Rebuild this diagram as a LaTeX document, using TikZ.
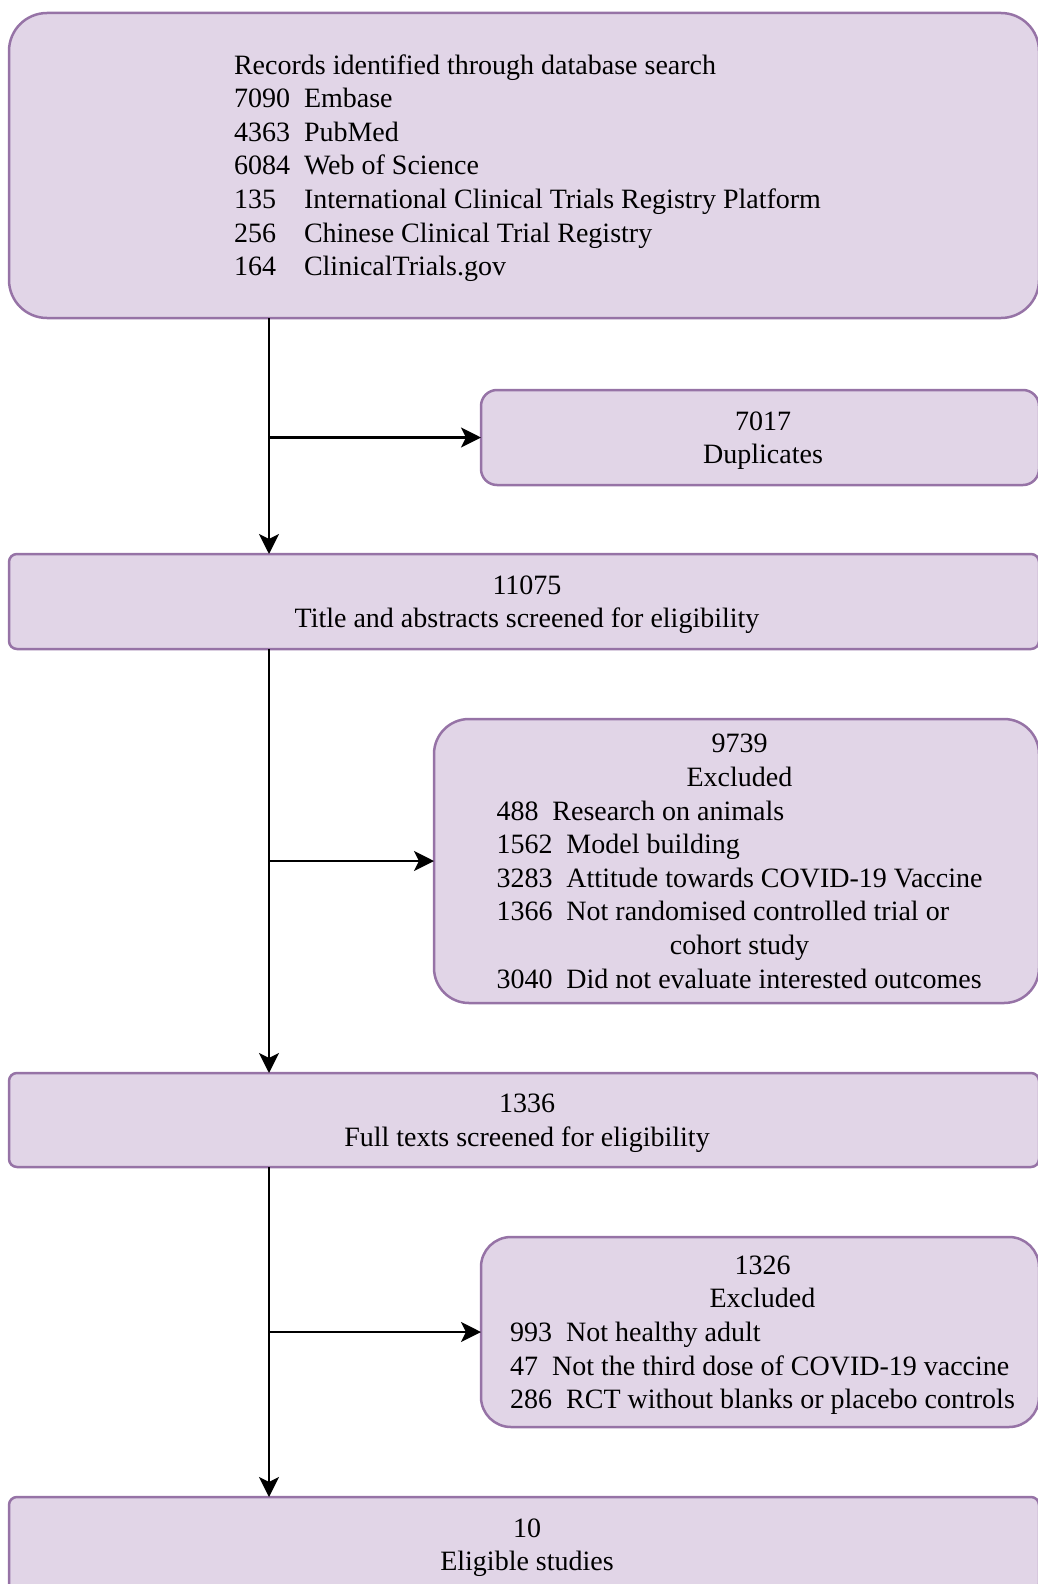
\documentclass[tikz,border=0pt]{standalone}
\usepackage{fontspec}
\setmainfont{Liberation Serif}
\usetikzlibrary{arrows.meta}
\definecolor{boxfill}{HTML}{E1D5E7}
\definecolor{boxline}{HTML}{9673A6}
\newcommand\boxfont{\fontsize{28}{33.6}\selectfont
  \setbox\strutbox\hbox{\vrule height26.25pt depth7.35pt width0pt}}
\newcommand\cc[1]{\multicolumn{1}{@{}c@{}}{#1}}
\begin{document}
\begin{tikzpicture}[x=1pt,y=-1pt,
  box/.style={draw=boxline, fill=boxfill, line width=2.5pt, inner sep=0pt, outer sep=0pt,
              font=\boxfont, align=center},
  arr/.style={line width=2.8pt, -{Stealth[length=20pt,width=20pt,inset=5pt]}}]
\useasboundingbox (0,0) rectangle (1038,1584);
\coordinate (spine) at (269,0);

\node[box, rounded corners=38pt, minimum width=1030pt, minimum height=305pt] (A) at (524,165.5)
{\hspace*{7pt}\begin{tabular}{@{}l@{\hspace{14pt}}l@{}}
\multicolumn{2}{@{}l@{}}{Records identified through database search}\\
7090 & Embase\\
4363 & PubMed\\
6084 & Web of Science\\
135 & International Clinical Trials Registry Platform\\
256 & Chinese Clinical Trial Registry\\
164 & ClinicalTrials.gov
\end{tabular}};

\node[box, rounded corners=16pt, minimum width=558pt, minimum height=95pt] (B) at (760,437.5)
{\hspace*{6pt}\begin{tabular}{@{}c@{}}7017\\Duplicates\end{tabular}};

\node[box, rounded corners=8pt, minimum width=1030pt, minimum height=95pt] (C) at (524,601.5)
{\hspace*{6pt}\begin{tabular}{@{}c@{}}11075\\Title and abstracts screened for eligibility\end{tabular}};

\node[box, rounded corners=35pt, minimum width=605pt, minimum height=284pt] (D) at (736.5,861)
{\hspace*{6pt}\begin{tabular}{@{}l@{}}
\cc{9739}\\
\cc{Excluded}\\
488~~Research on animals\\
1562~~Model building\\
3283~~Attitude towards COVID-19 Vaccine\\
1366~~Not randomised controlled trial or\\
\cc{cohort study}\\
3040~~Did not evaluate interested outcomes
\end{tabular}};

\node[box, rounded corners=8pt, minimum width=1030pt, minimum height=94pt] (E) at (524,1120)
{\hspace*{6pt}\begin{tabular}{@{}c@{}}1336\\Full texts screened for eligibility\end{tabular}};

\node[box, rounded corners=30pt, minimum width=558pt, minimum height=190pt] (F) at (760,1332)
{\hspace*{5pt}\begin{tabular}{@{}l@{}}
\cc{1326}\\
\cc{Excluded}\\
993~~Not healthy adult\\
47~~Not the third dose of COVID-19 vaccine\\
286~~RCT without blanks or placebo controls
\end{tabular}};

\node[box, rounded corners=8pt, minimum width=1030pt, minimum height=95pt] (G) at (524,1544.5)
{\hspace*{6pt}\begin{tabular}{@{}c@{}}10\\Eligible studies\end{tabular}};

\draw[arr] (spine |- A.south) -- (spine |- C.north);
\draw[arr] (spine |- B.west) -- (B.west);
\draw[arr] (spine |- C.south) -- (spine |- E.north);
\draw[arr] (spine |- D.west) -- (D.west);
\draw[arr] (spine |- E.south) -- (spine |- G.north);
\draw[arr] (spine |- F.west) -- (F.west);
\end{tikzpicture}
\end{document}
